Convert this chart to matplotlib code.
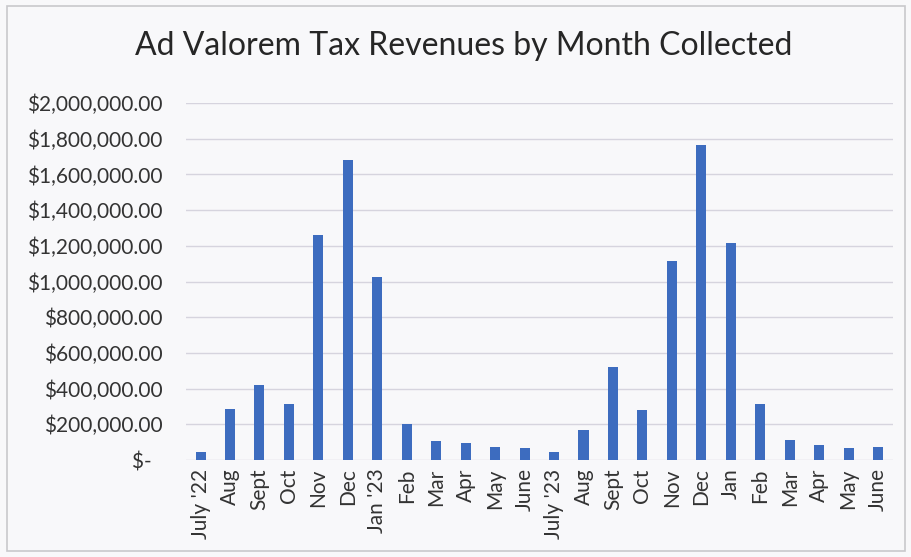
import numpy as np
import matplotlib.pyplot as plt
from matplotlib.patches import Rectangle
from matplotlib.ticker import FuncFormatter

plt.rcParams['font.family'] = ['Lato', 'DejaVu Sans']

months = ["July '22", 'Aug', 'Sept', 'Oct', 'Nov', 'Dec', "Jan '23", 'Feb',
          'Mar', 'Apr', 'May', 'June', "July '23", 'Aug', 'Sept', 'Oct',
          'Nov', 'Dec', 'Jan', 'Feb', 'Mar', 'Apr', 'May', 'June']

revenues = [46000, 287000, 422000, 315000, 1259000, 1681000, 1024000, 204000,
            107000, 96000, 74000, 68000, 48000, 168000, 520000, 282000,
            1113000, 1765000, 1218000, 315000, 113000, 83000, 70000, 76000]

y_ticks = np.arange(0, 2000001, 200000)


def dollars(v, pos):
    if v == 0:
        return '$-  '
    return '${:,.2f}'.format(v)


fig = plt.figure(figsize=(9.11, 5.57), dpi=100)
fig.patch.set_facecolor('#f8f8fa')
ax = fig.add_axes([0.204, 0.174, 0.776, 0.641])
ax.set_facecolor('#f8f8fa')

x = np.arange(len(months))
ax.bar(x, revenues, width=0.34, color='#3d6cbf', zorder=3)

ax.set_xlim(-0.5, len(months) - 0.5)
ax.set_ylim(0, 2000000)
ax.set_yticks(y_ticks)
ax.yaxis.set_major_formatter(FuncFormatter(dollars))
ax.set_xticks(x)
ax.set_xticklabels(months, rotation=90)
ax.grid(axis='y', color='#d6d4de', linewidth=1.0, zorder=0)
ax.tick_params(length=0, labelsize=15, labelcolor='#333333')
ax.tick_params(axis='y', pad=17)
ax.tick_params(axis='x', pad=6)
for s in ax.spines.values():
    s.set_visible(False)

fig.text(0.509, 0.918, 'Ad Valorem Tax Revenues by Month Collected',
         fontsize=23, color='#262626', ha='center', va='center')

fig.patches.append(Rectangle((0.008, 0.01), 0.985, 0.98,
                             transform=fig.transFigure, fill=False,
                             edgecolor='#c8c8cc', linewidth=1.2))

fig.savefig('out.png', dpi=100, facecolor=fig.get_facecolor())
